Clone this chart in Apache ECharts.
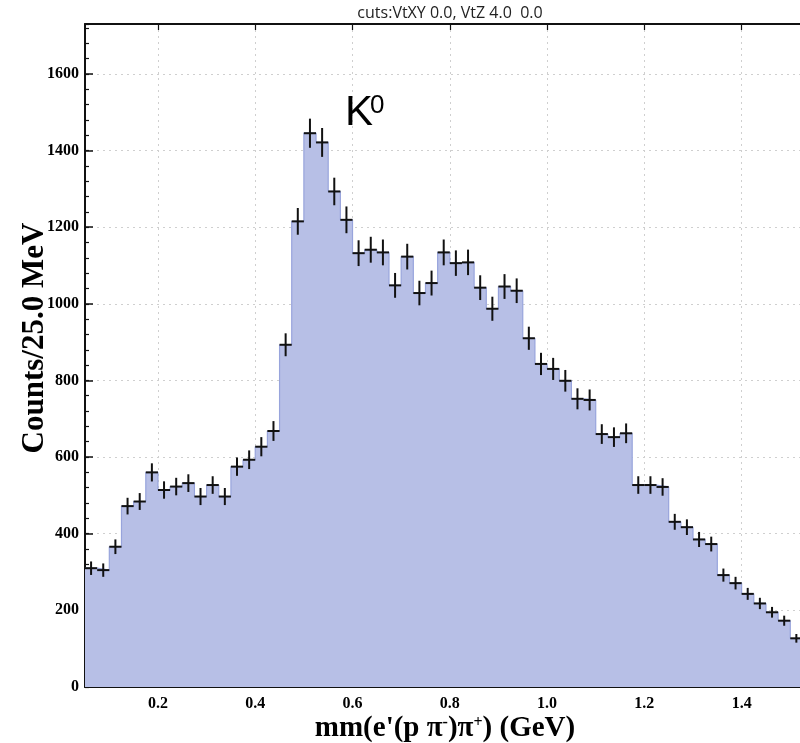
<!DOCTYPE html>
<html>
<head>
<meta charset="utf-8">
<script src="https://cdn.jsdelivr.net/npm/echarts@6/dist/echarts.min.js"></script>
<style>
  html, body { margin: 0; padding: 0; background: #fff; }
  #chart { width: 800px; height: 743px; }
</style>
</head>
<body>
<div id="chart"></div>
<script>
// Binning of the missing-mass histogram (GeV)
const binLow = 0.05;
const binWidth = 0.025;

// Counts per 25 MeV bin, starting at binLow
const counts = [
  310, 305, 366, 472, 484, 560, 514, 523, 532, 497,
  527, 497, 575, 593, 627, 668, 893, 1215, 1445, 1421,
  1293, 1219, 1132, 1141, 1134, 1048, 1123, 1028, 1054, 1134,
  1106, 1108, 1042, 987, 1045, 1034, 910, 843, 830, 799,
  752, 749, 660, 652, 662, 527, 527, 522, 431, 417,
  385, 373, 292, 271, 243, 218, 195, 173, 127
];

// Axis ranges and tick positions
const xMin = 0.05, xMax = 1.52;
const yMin = 0, yMax = 1730;
const xMajorTicks = [0.2, 0.4, 0.6, 0.8, 1.0, 1.2, 1.4];
const xMinorStep = 0.04;
const yMajorStep = 200;
const yMinorStep = 40;

const xMinorTicks = [];
for (let v = 0.08; v < xMax; v += xMinorStep) {
  const r = Math.round(v * 100) / 100;
  if (!xMajorTicks.some(m => Math.abs(m - r) < 1e-6)) xMinorTicks.push(r);
}

// Step outline: one point per left bin edge plus the closing right edge
const stepData = counts.map((c, i) => [binLow + i * binWidth, c]);
stepData.push([binLow + counts.length * binWidth, counts[counts.length - 1]]);

// Bin centres with Poisson errors for the crosses
const pointData = counts.map((c, i) => [binLow + (i + 0.5) * binWidth, c, Math.sqrt(c)]);

const serif = '"Liberation Serif", "Times New Roman", serif';
const sans = '"Liberation Sans", Arial, sans-serif';
const ink = '#111';

const chart = echarts.init(document.getElementById('chart'), null, { renderer: 'canvas' });

chart.setOption({
  animation: false,
  backgroundColor: '#fff',
  grid: { left: 85, right: 0, top: 24, bottom: 56 },
  xAxis: [
    {
      type: 'value', min: xMin, max: xMax, position: 'bottom',
      axisLine: { lineStyle: { color: ink, width: 2 } },
      axisTick: { inside: true, length: 7, customValues: xMajorTicks, lineStyle: { color: ink, width: 1.5 } },
      axisLabel: {
        customValues: xMajorTicks, formatter: v => v.toFixed(1),
        fontFamily: serif, fontWeight: 'bold', fontSize: 16, color: '#000', margin: 9
      },
      splitLine: { show: true, lineStyle: { color: '#cfcfcf', width: 1, type: [2, 4] } }
    },
    {
      type: 'value', min: xMin, max: xMax, position: 'bottom',
      axisLine: { show: false },
      axisTick: { inside: true, length: 4, customValues: xMinorTicks, lineStyle: { color: ink, width: 1.2 } },
      axisLabel: { show: false },
      splitLine: { show: false }
    },
    {
      type: 'value', min: xMin, max: xMax, position: 'top',
      axisLine: { lineStyle: { color: ink, width: 2 } },
      axisTick: { inside: true, length: 6, customValues: xMajorTicks, lineStyle: { color: ink, width: 1.2 } },
      axisLabel: { show: false },
      splitLine: { show: false }
    }
  ],
  yAxis: [
    {
      type: 'value', min: yMin, max: yMax, interval: yMajorStep,
      axisLine: { show: true, lineStyle: { color: ink, width: 2 } },
      axisTick: { show: true, inside: true, length: 8, lineStyle: { color: ink, width: 1.5 } },
      axisLabel: {
        showMaxLabel: false, formatter: v => String(v),
        fontFamily: serif, fontWeight: 'bold', fontSize: 16, color: '#000', margin: 6
      },
      splitLine: { show: true, lineStyle: { color: '#cfcfcf', width: 1, type: [2, 4] } }
    },
    {
      type: 'value', min: yMin, max: yMax, interval: yMinorStep, position: 'left',
      axisLine: { show: false },
      axisTick: { show: true, inside: true, length: 4, lineStyle: { color: ink, width: 1.2 } },
      axisLabel: { show: false },
      splitLine: { show: false }
    }
  ],
  series: [
    {
      name: 'histogram', type: 'line', xAxisIndex: 0, yAxisIndex: 0,
      data: stepData, step: 'end', symbol: 'none', clip: true,
      lineStyle: { color: '#98a4dc', width: 1.2 },
      areaStyle: { color: '#b7bfe6', opacity: 1 },
      z: 2
    },
    {
      name: 'points', type: 'custom', xAxisIndex: 0, yAxisIndex: 0,
      data: pointData, clip: true, z: 3,
      encode: { x: 0, y: 1 },
      renderItem: function (params, api) {
        const x = api.value(0), y = api.value(1), e = api.value(2);
        const c = api.coord([x, y]);
        const lo = api.coord([x - binWidth / 2, y]);
        const hi = api.coord([x + binWidth / 2, y]);
        const top = api.coord([x, y + e]);
        const bot = api.coord([x, y - e]);
        const st = { stroke: ink, lineWidth: 2 };
        return {
          type: 'group',
          children: [
            { type: 'line', shape: { x1: lo[0], y1: c[1], x2: hi[0], y2: c[1] }, style: st },
            { type: 'line', shape: { x1: c[0], y1: top[1], x2: c[0], y2: bot[1] }, style: st }
          ]
        };
      }
    }
  ],
  graphic: [
    {
      type: 'text', x: 450, y: 13, z: 10,
      style: {
        text: 'cuts:VtXY 0.0, VtZ 4.0  0.0', fill: '#222',
        font: '16px "Open Sans", "DejaVu Sans", sans-serif',
        textAlign: 'center', textVerticalAlign: 'middle'
      }
    },
    {
      type: 'text', x: 345, y: 134, z: 10,
      style: {
        text: 'K', fill: '#000', font: '42px ' + sans,
        textAlign: 'left', textVerticalAlign: 'bottom'
      }
    },
    {
      type: 'text', x: 370, y: 119, z: 10,
      style: {
        text: '0', fill: '#000', font: '26px ' + sans,
        textAlign: 'left', textVerticalAlign: 'bottom'
      }
    },
    {
      type: 'text', x: 35, y: 338, rotation: Math.PI / 2, z: 10,
      style: {
        text: 'Counts/25.0 MeV', fill: '#000',
        font: 'bold 31px ' + serif,
        textAlign: 'center', textVerticalAlign: 'middle'
      }
    },
    {
      type: 'text', x: 445, y: 729, z: 10,
      style: {
        text: "mm(e'(p π{s|-})π{s|+}) (GeV)", fill: '#000',
        font: 'bold 29px ' + serif,
        textAlign: 'center', textVerticalAlign: 'middle',
        rich: {
          s: { fontSize: 16, fontWeight: 'bold', fontFamily: serif, verticalAlign: 'top', fill: '#000' }
        }
      }
    }
  ]
});
</script>
</body>
</html>
